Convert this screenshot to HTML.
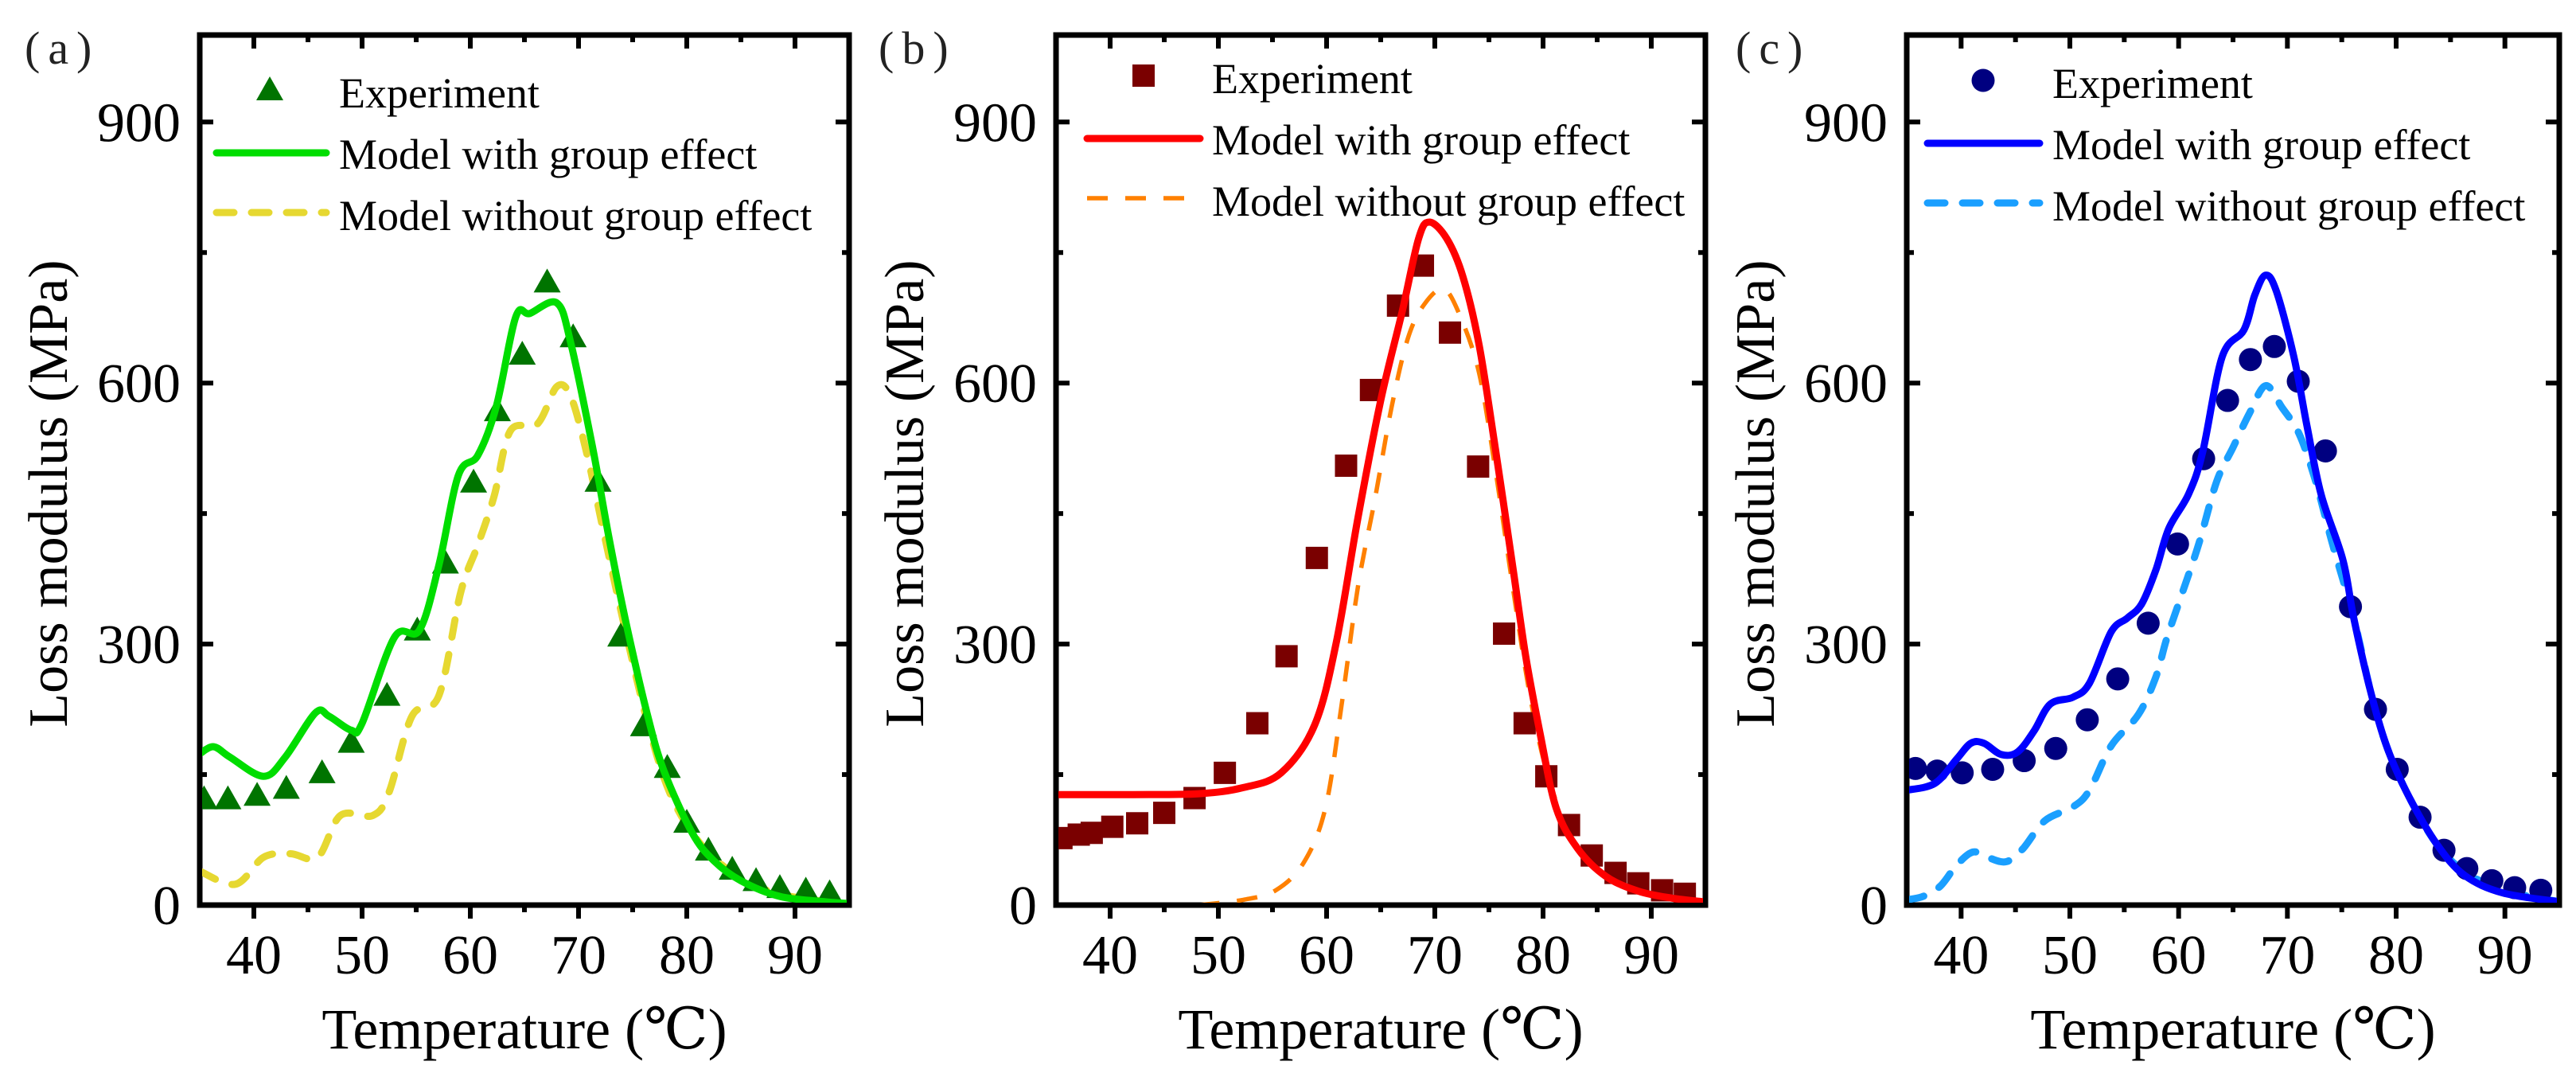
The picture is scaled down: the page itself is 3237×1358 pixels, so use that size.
<!DOCTYPE html>
<html><head><meta charset="utf-8"><style>
html,body{margin:0;padding:0;background:#fff;}
svg{display:block;font-family:"Liberation Serif","DejaVu Serif",serif;}
</style></head><body>
<svg id="fig" width="3237" height="1358" viewBox="0 0 3237 1358" xmlns="http://www.w3.org/2000/svg"></svg>
<script>
// ---- Data ----
const xTicks = [40, 50, 60, 70, 80, 90];
const yTicks = [0, 300, 600, 900];
const panelLabels = ["(a)", "(b)", "(c)"];
const legendLabels = ["Experiment", "Model with group effect", "Model without group effect"];

const aExpT = [35.4,37.6,40.3,43.0,46.3,49.0,52.3,55.1,57.7,60.3,62.5,64.8,67.1,69.5,71.8,73.9,76.0,78.2,80.0,82.0,84.2,86.4,88.6,91.0,93.2];
const aExpV = [122,122,126,134,152,187,241,316,393,486,568,633,716,653,487,309,206,158,95,63,41,28,20,17,14];
const aWithT = [35.0,36.3,37.8,40.9,42.9,45.7,46.95,49.0,50.0,53.0,55.3,57.1,58.9,60.7,62.4,64.2,65.5,68.0,69.3,71.3,72.8,74.4,76.4,77.9,80.5,82.5,85.0,88.6,92.6,94.7];
const aWithV = [174,182,170,148,170,221,217,201,209,308,316,391,494,517,573,676,680,692,645,526,423,324,217,154,83,51,28,10,4,2];
const aWoT = [35.0,38.3,40.9,43.4,45.9,48.0,51.0,52.5,54.6,57.1,59.1,60.7,62.2,63.7,66.2,68.0,69.3,70.8,72.3,74.4,76.4,78.4,80.96,84.0,87.6,91.6,94.7];
const aWoV = [39,24,55,59,55,103,103,130,217,241,359,414,470,545,553,596,584,517,430,312,209,130,75,39,16,6,2];

const bExpT = [35.5,37.1,38.3,40.2,42.5,45.0,47.8,50.6,53.6,56.3,59.1,61.8,64.1,66.6,68.9,71.4,74.0,76.4,78.3,80.3,82.4,84.5,86.7,88.8,91.0,93.1];
const bExpV = [77,81,83,90,94,106,123,152,209,286,399,505,592,689,735,658,504,312,209,148,92,57,37,25,17,13];
const bWithT = [35.0,42.1,48.2,52.3,55.8,58.9,60.9,62.9,65.0,67.0,68.5,69.5,71.1,72.6,74.1,75.6,77.2,78.4,79.7,81.2,83.2,85.8,88.8,91.9,94.7];
const bWithV = [127,127,128,135,152,207,302,445,580,683,766,785,766,722,643,524,389,286,199,112,65,33,16,8,4];
const bWoT = [48.2,52.3,55.3,57.9,59.9,61.4,62.9,64.5,66.0,67.5,69.0,70.8,72.3,74.1,75.6,77.2,78.7,80.2,82.2,84.8,87.8,90.9,94.7];
const bWoV = [0,6,17,49,112,231,366,469,572,651,690,708,678,611,500,366,247,160,89,45,21,9,4];

const cExpT = [35.8,37.8,40.1,42.9,45.8,48.7,51.6,54.4,57.2,59.9,62.3,64.5,66.6,68.8,71.0,73.5,75.8,78.1,80.1,82.2,84.4,86.5,88.8,90.9,93.3];
const cExpV = [157,154,152,156,166,180,213,260,324,415,513,580,627,642,602,522,343,225,156,101,63,42,28,20,17];
const cWithT = [35.0,37.6,39.6,40.9,42.1,43.7,45.2,46.7,48.2,50.3,51.8,53.8,55.3,56.6,57.9,59.1,60.9,62.2,64.0,66.0,67.0,68.0,69.0,70.6,71.8,73.1,75.1,76.1,77.7,79.2,81.2,83.8,86.3,89.8,94.9];
const cWithV = [132,140,168,186,186,173,176,200,231,239,255,314,330,346,385,433,472,520,630,661,701,724,705,630,551,472,397,330,243,180,124,69,34,14,4];
const cWoT = [35.0,36.5,38.1,39.6,41.1,42.6,44.2,45.7,47.7,50.3,51.8,53.8,56.3,57.9,58.9,60.4,61.9,63.5,65.0,66.5,68.0,69.5,71.1,72.6,74.1,76.1,77.7,79.2,81.2,83.8,86.8,90.9,94.9];
const cWoV = [6,10,22,46,61,54,50,65,97,113,132,183,219,262,306,361,417,487,526,565,597,572,541,487,417,330,243,180,124,69,34,14,4];

// ---- Drawing ----
const NS = "http://www.w3.org/2000/svg";
const svg = document.getElementById("fig");
function mk(tag, attrs, parent) {
  const e = document.createElementNS(NS, tag);
  for (const k in attrs) e.setAttribute(k, attrs[k]);
  (parent || svg).appendChild(e);
  return e;
}
const TOP = 44, BOT = 1137, YMAX = 1000, XMIN = 35, XMAX = 95;

function smoothPath(pts) {
  let d = "M" + pts[0][0].toFixed(1) + "," + pts[0][1].toFixed(1);
  for (let i = 0; i < pts.length - 1; i++) {
    const p0 = pts[Math.max(0, i - 1)], p1 = pts[i], p2 = pts[i + 1], p3 = pts[Math.min(pts.length - 1, i + 2)];
    const c1x = p1[0] + (p2[0] - p0[0]) / 6, c1y = p1[1] + (p2[1] - p0[1]) / 6;
    const c2x = p2[0] - (p3[0] - p1[0]) / 6, c2y = p2[1] - (p3[1] - p1[1]) / 6;
    d += ` C${c1x.toFixed(1)},${c1y.toFixed(1)} ${c2x.toFixed(1)},${c2y.toFixed(1)} ${p2[0].toFixed(1)},${p2[1].toFixed(1)}`;
  }
  return d;
}

function drawPanel(p) {
  const g = mk("g", {});
  
  
  const L = p.left, R = p.right;
  const sx = t => L + (t - XMIN) / (XMAX - XMIN) * (R - L);
  const sy = v => BOT - v / YMAX * (BOT - TOP);

  const pl = mk("text", {x: p.labelX, y: 80, "font-size": 58, "letter-spacing": 10, fill: "#222"}, g);
  pl.textContent = p.label;
  
  

  const tk = mk("g", {stroke: "#000", "stroke-width": 6}, g);
  
  
  for (let t = 40; t <= 90; t += 5) {
    const major = t % 10 === 0, len = major ? 17 : 9;
    mk("line", {x1: sx(t), x2: sx(t), y1: BOT, y2: BOT + len}, tk);
    mk("line", {x1: sx(t), x2: sx(t), y1: TOP, y2: TOP + len}, tk);
  }
  for (let v = 150; v <= 900; v += 150) {
    const major = v % 300 === 0, len = major ? 17 : 9;
    mk("line", {x1: L, x2: L + len, y1: sy(v), y2: sy(v)}, tk);
    mk("line", {x1: R, x2: R - len, y1: sy(v), y2: sy(v)}, tk);
  }
  const fr = mk("rect", {x: L, y: TOP, width: R - L, height: BOT - TOP, fill: "none", stroke: "#000", "stroke-width": 7}, g);
  
  

  xTicks.forEach(t => {
    const e = mk("text", {x: sx(t), y: 1223, "font-size": 70, "text-anchor": "middle"}, g);
    e.textContent = t;
    
    
  });
  yTicks.forEach(v => {
    const e = mk("text", {x: L - 24, y: sy(v) + 24, "font-size": 70, "text-anchor": "end"}, g);
    e.textContent = v;
    
    
  });
  const xt = mk("text", {x: (L + R) / 2, y: 1317, "font-size": 72, "text-anchor": "middle"}, g);
  xt.textContent = "Temperature (\u2103)";
  
  
  const yx = L - 189 + 22;
  const yt = mk("text", {x: yx, y: 620, "font-size": 70, "text-anchor": "middle", transform: `rotate(-90 ${yx} 620)`}, g);
  yt.textContent = "Loss modulus (MPa)";
  
  

  const cp = mk("clipPath", {id: "clip" + p.id}, g);
  mk("rect", {x: L + 3, y: TOP + 3, width: R - L - 6, height: BOT - TOP - 6}, cp);
  const plot = mk("g", {"clip-path": `url(#clip${p.id})`}, g);

  const path = (T, V) => smoothPath(T.map((t, i) => [sx(t), sy(V[i])]));
  const wo = mk("path", {d: path(p.woT, p.woV), fill: "none", stroke: p.woColor, "stroke-width": p.woW, "stroke-dasharray": p.woDash, "stroke-linecap": p.woCap, "stroke-linejoin": "round"}, plot);
  
  

  const marker = (x, y, parent) => {
    let e;
    if (p.marker === "tri") e = mk("polygon", {points: `${x},${y - 17} ${x - 17},${y + 13} ${x + 17},${y + 13}`, fill: p.expColor}, parent);
    else if (p.marker === "sq") e = mk("rect", {x: x - 14, y: y - 14, width: 28, height: 28, fill: p.expColor}, parent);
    else e = mk("circle", {cx: x, cy: y, r: 14.5, fill: p.expColor}, parent);
    return e;
  };
  const expG = mk("g", {}, plot);
  
  
  p.expT.forEach((t, i) => {
    const m = marker(sx(t), sy(p.expV[i]), expG);
    
    
  });

  const wi = mk("path", {d: path(p.withT, p.withV), fill: "none", stroke: p.withColor, "stroke-width": 9, "stroke-linejoin": "round", "stroke-linecap": "round"}, plot);
  
  

  const lg = mk("g", {}, g);
  
  
  const m0 = marker(p.leg.mx, p.leg.rows[0] - 22, lg);
  
  
  const l1 = mk("line", {x1: p.leg.lx1, x2: p.leg.lx2, y1: p.leg.rows[1] - 20, y2: p.leg.rows[1] - 20, stroke: p.withColor, "stroke-width": 9, "stroke-linecap": "round"}, lg);
  
  
  const l2 = mk("line", {x1: p.leg.lx1, x2: p.leg.lx2, y1: p.leg.rows[2] - 22, y2: p.leg.rows[2] - 22, stroke: p.woColor, "stroke-width": p.woW, "stroke-dasharray": p.woDash, "stroke-linecap": p.woCap}, lg);
  
  
  legendLabels.forEach((s, i) => {
    const e = mk("text", {x: p.leg.tx, y: p.leg.rows[i], "font-size": 54}, lg);
    e.textContent = s;
    
    
  });
}

drawPanel({id: "a", label: panelLabels[0], labelX: 31, left: 251, right: 1067, marker: "tri",
  expT: aExpT, expV: aExpV, withT: aWithT, withV: aWithV, woT: aWoT, woV: aWoV,
  expColor: "#007400", withColor: "#00dd00", woColor: "#e6d831", woW: 9, woDash: "22 22", woCap: "round",
  leg: {mx: 339, tx: 426, lx1: 272, lx2: 410, rows: [135, 212, 289]}});
drawPanel({id: "b", label: panelLabels[1], labelX: 1104, left: 1327, right: 2143, marker: "sq",
  expT: bExpT, expV: bExpV, withT: bWithT, withV: bWithV, woT: bWoT, woV: bWoV,
  expColor: "#7a0000", withColor: "#ff0000", woColor: "#ff8000", woW: 5.5, woDash: "26 22", woCap: "butt",
  leg: {mx: 1437, tx: 1523, lx1: 1366, lx2: 1508, rows: [117, 194, 271]}});
drawPanel({id: "c", label: panelLabels[2], labelX: 2181, left: 2396, right: 3216, marker: "circ",
  expT: cExpT, expV: cExpV, withT: cWithT, withV: cWithV, woT: cWoT, woV: cWoV,
  expColor: "#000080", withColor: "#0000ff", woColor: "#1a9fff", woW: 9, woDash: "22 22", woCap: "round",
  leg: {mx: 2492, tx: 2579, lx1: 2422, lx2: 2563, rows: [123, 200, 277]}});
</script>
</body></html>
